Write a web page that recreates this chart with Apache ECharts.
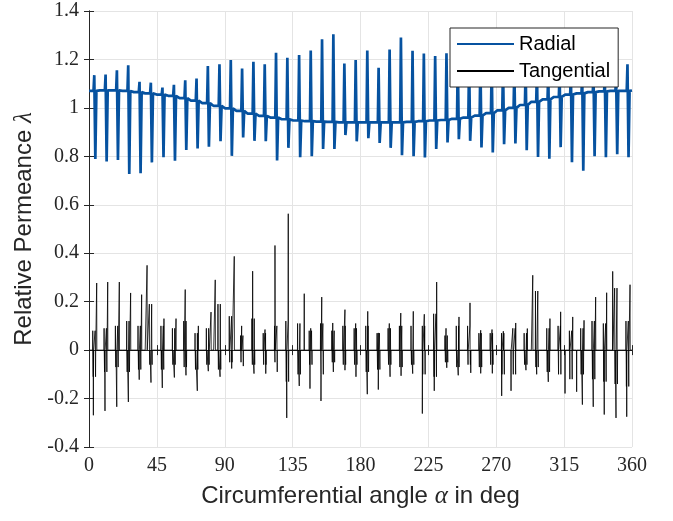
<!DOCTYPE html>
<html><head><meta charset="utf-8">
<script src="https://cdn.jsdelivr.net/npm/echarts@6/dist/echarts.min.js"></script>
<style>html,body{margin:0;padding:0;background:#fff}#c{width:673px;height:521px}</style>
</head><body><div id="c"></div>
<script>
// ---- data ----
const xTickStep = 45;           // deg
const yTickStep = 0.2;
const xRange = [0, 360];
const yRange = [-0.4, 1.4];

// slot (tooth) angles in deg
const slotDeg = [3.5, 11, 18.5, 26, 33.5, 41, 48.7, 56.3, 63.8, 71.3, 78.8, 86.5, 94, 101.5, 109, 116.5,
  124, 131.5, 139.3, 147, 154.5, 162, 169.3, 176.8, 184.5, 192, 199.3, 206.8, 214.5, 222, 229.5, 237,
  244.5, 252, 259.5, 267, 274.5, 282, 289.5, 297, 304.5, 312, 319.5, 327, 334.5, 342, 349.5, 357];

// Radial: smooth base level before each slot, peak and dip at each slot
const radialStart = 1.07;
const radialEnd = 1.072;
const radialBase = [1.07, 1.072, 1.072, 1.07, 1.065, 1.06, 1.055, 1.05, 1.04, 1.03, 1.02, 1.008, 0.998, 0.988, 0.976, 0.967,
  0.96, 0.953, 0.948, 0.945, 0.943, 0.942, 0.94, 0.94, 0.94, 0.94, 0.94, 0.94, 0.942, 0.945, 0.948, 0.95,
  0.955, 0.96, 0.968, 0.978, 0.99, 1.0, 1.012, 1.025, 1.035, 1.045, 1.055, 1.06, 1.065, 1.068, 1.07, 1.07];
const radialPeak = [1.135, 1.138, 1.155, 1.176, 1.108, 1.104, 1.084, 1.095, 1.114, 1.121, 1.173, 1.18, 1.198, 1.163, 1.19, 1.18,
  1.228, 1.207, 1.218, 1.237, 1.283, 1.304, 1.183, 1.198, 1.237, 1.166, 1.241, 1.291, 1.236, 1.224, 1.214, 1.226,
  1.21, 1.2, 1.2, 1.19, 1.18, 1.17, 1.17, 1.16, 1.15, 1.15, 1.14, 1.13, 1.13, 1.12, 1.12, 1.18];
const radialDip = [0.789, 0.779, 0.785, 0.727, 0.73, 0.775, 0.796, 0.782, 0.826, 0.832, 0.84, 0.862, 0.802, 0.878, 0.864, 0.862,
  0.783, 0.835, 0.796, 0.8, 0.83, 0.83, 0.888, 0.862, 0.875, 0.855, 0.835, 0.805, 0.8, 0.795, 0.83, 0.857,
  0.871, 0.864, 0.837, 0.816, 0.85, 0.853, 0.825, 0.797, 0.79, 0.838, 0.776, 0.741, 0.8, 0.796, 0.809, 0.796];

// Tangential: main positive / negative spike (angle, value) per slot, plus smaller burst values
const tangUpDeg = [5.1, 12.4, 20.1, 27.6, 34.9, 38.5, 49.7, 57.7, 63.8, 72.5, 80.9, 83.7, 96.3, 101.2, 108.5, 116.7,
  123.3, 132.1, 142.7, 147, 154.3, 161.6, 169.7, 176.8, 184.8, 191.8, 199.1, 206.7, 215, 222.3, 230.5, 236.7,
  245.3, 252.6, 259.7, 267.2, 274.7, 282.9, 290.6, 294.2, 305.6, 312.7, 320.7, 328.2, 335.9, 343.2, 347.2, 358.7];
const tangUpVal = [0.277, 0.281, 0.281, 0.236, 0.229, 0.35, 0.13, 0.13, 0.25, 0.10, 0.157, 0.29, 0.387, 0.10, 0.326, 0.085,
  0.432, 0.563, 0.233, 0.09, 0.219, 0.112, 0.167, 0.11, 0.16, 0.071, 0.11, 0.153, 0.16, 0.148, 0.281, 0.09,
  0.137, 0.195, 0.082, 0.085, 0.078, 0.112, 0.089, 0.309, 0.13, 0.158, 0.137, 0.123, 0.219, 0.237, 0.325, 0.27];
const tangDownDeg = [2.9, 10.6, 18.4, 26.1, 33.3, 41.1, 48.6, 56.6, 64.3, 71.8, 79.1, 86.9, 94.6, 102.3, 109.4, 117.2,
  124.8, 131.1, 139.4, 146.5, 153.8, 162, 169.7, 177, 184.5, 191.8, 199.6, 206.9, 214.6, 221, 228.9, 237.2,
  244.8, 253.1, 259.7, 267.4, 273.6, 279.8, 289.7, 296.8, 304.5, 315.6, 323.3, 327.1, 334.3, 341.6, 349.4, 356.5];
const tangDownVal = [-0.269, -0.251, -0.234, -0.214, -0.122, -0.134, -0.156, -0.113, -0.104, -0.168, -0.087, -0.11, -0.076, -0.066, -0.097, -0.097,
  -0.09, -0.28, -0.148, -0.159, -0.21, -0.09, -0.083, -0.11, -0.182, -0.163, -0.11, -0.106, -0.097, -0.262, -0.168, -0.073,
  -0.104, -0.094, -0.096, -0.096, -0.189, -0.168, -0.083, -0.10, -0.131, -0.179, -0.172, -0.225, -0.234, -0.266, -0.28, -0.275];
const tangBurstUp = [0.08, 0.09, 0.1, 0.12, 0.1, 0.19, 0.1, 0.09, 0.12, 0.07, 0.09, 0.19, 0.14, 0.06, 0.13, 0.07,
  0.1, 0.12, 0.11, 0.08, 0.11, 0.08, 0.1, 0.09, 0.1, 0.07, 0.09, 0.1, 0.1, 0.1, 0.15, 0.06,
  0.1, 0.1, 0.07, 0.07, 0.07, 0.09, 0.07, 0.244, 0.09, 0.1, 0.08, 0.09, 0.12, 0.11, 0.256, 0.12];
const tangBurstDown = [-0.11, -0.09, -0.07, -0.09, -0.08, -0.06, -0.08, -0.06, -0.07, -0.08, -0.06, -0.08, -0.05, -0.05, -0.06, -0.06,
  -0.05, -0.13, -0.1, -0.06, -0.1, -0.05, -0.06, -0.06, -0.09, -0.08, -0.06, -0.07, -0.06, -0.1, -0.11, -0.05,
  -0.07, -0.06, -0.07, -0.06, -0.1, -0.1, -0.06, -0.07, -0.09, -0.1, -0.12, -0.1, -0.12, -0.13, -0.14, -0.15];

// ---- build line data from the arrays ----
function midBefore(k){ return k === 0 ? 0 : (slotDeg[k-1] + slotDeg[k]) / 2; }
const radialData = [[xRange[0], radialStart]];
for (let k = 0; k < slotDeg.length; k++) {
  const a = slotDeg[k];
  if (k > 0) radialData.push([midBefore(k), radialBase[k]]);
  radialData.push([a - 0.5, radialBase[k]]);
  radialData.push([a, radialPeak[k]]);
  radialData.push([a + 0.7, radialDip[k]]);
  radialData.push([a + 1.4, radialBase[k]]);
}
radialData.push([xRange[1], radialEnd]);

const tangPts = [[xRange[0], 0]];
function spike(d, v){ tangPts.push([d - 0.1, 0], [d, v], [d + 0.1, 0]); }
for (let k = 0; k < slotDeg.length; k++) {
  const a = slotDeg[k];
  if (k > 0) tangPts.push([midBefore(k), 0]);
  spike(a - 1.0, tangBurstUp[k]);
  spike(a - 0.7, tangBurstDown[k]);
  spike(a + 0.55, tangBurstUp[k]);
  spike(a + 0.85, tangBurstDown[k]);
  spike(tangUpDeg[k], tangUpVal[k]);
  spike(tangDownDeg[k], tangDownVal[k]);
}
tangPts.push([xRange[1], 0]);
tangPts.sort((p, q) => p[0] - q[0]);

// ---- chart ----
const axisCol = '#262626';
const gridCol = '#e4e4e4';
const tickFont = {fontFamily: 'Liberation Serif', fontSize: 20, color: axisCol};
const nameRich = {a: {fontFamily: 'Liberation Sans', fontSize: 24, color: axisCol},
                  b: {fontFamily: 'Liberation Serif', fontStyle: 'italic', fontSize: 25, color: axisCol}};
const chart = echarts.init(document.getElementById('c'), null, {renderer: 'canvas'});
chart.setOption({
  animation: false,
  backgroundColor: '#fff',
  grid: {left: 89, right: 41, top: 11, bottom: 74, containLabel: false},
  legend: {
    data: ['Radial', 'Tangential'], orient: 'vertical', left: 450, top: 28,
    itemWidth: 57, itemHeight: 14, itemGap: 7, padding: [6, 8, 6, 6],
    backgroundColor: '#fff', borderColor: axisCol, borderWidth: 1, borderRadius: 0,
    itemStyle: {opacity: 0},
    textStyle: {fontFamily: 'Liberation Sans', fontSize: 20, color: '#000'}
  },
  xAxis: [{
    type: 'value', min: xRange[0], max: xRange[1], interval: xTickStep, position: 'bottom',
    name: '{a|Circumferential angle }{b|α}{a| in deg}', nameLocation: 'middle', nameGap: 37,
    nameTextStyle: {rich: nameRich},
    axisLine: {show: true, lineStyle: {color: axisCol, width: 1}},
    axisTick: {show: true, inside: true, length: 5, lineStyle: {color: axisCol}},
    axisLabel: Object.assign({margin: 9}, tickFont),
    splitLine: {show: true, lineStyle: {color: gridCol, width: 1}}
  }, {
    type: 'value', min: xRange[0], max: xRange[1], interval: xTickStep, position: 'top',
    axisLine: {show: true, lineStyle: {color: axisCol, width: 1}},
    axisTick: {show: true, inside: true, length: 5, lineStyle: {color: axisCol}},
    axisLabel: {show: false}, splitLine: {show: false}
  }],
  yAxis: [{
    type: 'value', min: yRange[0], max: yRange[1], interval: yTickStep, position: 'left',
    name: '{a|Relative Permeance }{b|λ}', nameLocation: 'middle', nameGap: 50, nameRotate: 90,
    nameTextStyle: {rich: nameRich},
    axisLine: {show: true, lineStyle: {color: axisCol, width: 1}},
    axisTick: {show: true, inside: true, length: 5, lineStyle: {color: axisCol}},
    axisLabel: Object.assign({margin: 10, formatter: v => String(Math.round(v * 10) / 10)}, tickFont),
    splitLine: {show: true, lineStyle: {color: gridCol, width: 1}}
  }, {
    type: 'value', min: yRange[0], max: yRange[1], interval: yTickStep, position: 'right',
    axisLine: {show: true, lineStyle: {color: axisCol, width: 1}},
    axisTick: {show: true, inside: true, length: 5, lineStyle: {color: axisCol}},
    axisLabel: {show: false}, splitLine: {show: false}
  }],
  series: [{
    name: 'Radial', type: 'line', data: radialData, showSymbol: false, symbol: 'none',
    lineStyle: {color: '#0652a0', width: 2.7}, itemStyle: {color: '#0652a0'}, z: 3
  }, {
    name: 'Tangential', type: 'line', data: tangPts, showSymbol: false, symbol: 'none',
    lineStyle: {color: '#000', width: 0.8}, itemStyle: {color: '#000'}, z: 2
  }]
});
</script></body></html>
